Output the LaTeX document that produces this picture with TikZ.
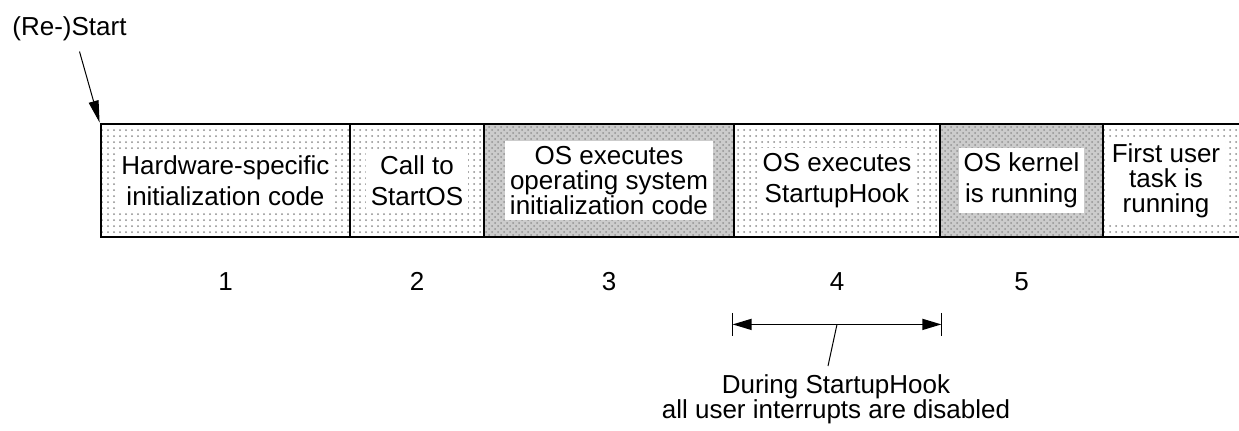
\documentclass[tikz,border=0pt]{standalone}
\usepackage{fontspec}
\setmainfont{Liberation Sans}
\usetikzlibrary{positioning,patterns,arrows.meta}

\tikzset{
  stagebox/.style={draw, line width=1.4pt, inner sep=0pt, minimum height=56.5pt,
    preaction={fill=white}, pattern=dots, pattern color=gray!90},
  osbox/.style={stagebox, preaction={fill=gray!40}, pattern=crosshatch dots, pattern color=gray!85},
  stagetxt/.style={fill=white, align=center, inner xsep=2.5pt, inner ysep=2.5pt,
    font=\fontsize{13}{15.5}\selectfont},
  stagetxt3/.style={stagetxt, font=\fontsize{13}{12.5}\selectfont},
  stagenum/.style={inner sep=2pt, font=\fontsize{13}{15}\selectfont},
  plain/.style={inner sep=2pt, align=center, font=\fontsize{13}{12.5}\selectfont}
}

\begin{document}
\begin{tikzpicture}[x=0.5pt,y=-0.5pt]
         \clip (0,0) rectangle (1239,430) ;
         %\draw[very thin,gray,step=50] (0,0) grid (1239,430) ;
         % the stages
         \node[stagebox, minimum width=124.5pt] (b1) at (225.5,180.5) {} ;
         \node[stagebox, minimum width=67pt] (b2) at (417,180.5) {} ;
         \node[osbox, minimum width=125pt] (b3) at (609,180.5) {} ;
         \node[stagebox, minimum width=103pt] (b4) at (837,180.5) {} ;
         \node[osbox, minimum width=81.5pt] (b5) at (1021.5,180.5) {} ;
         \node[stagebox, minimum width=78.5pt] (b6) at (1181.5,180.5) {} ;

         \node[stagetxt] (t1) at (b1) {Hardware-specific\\initialization code} ;
         \node[stagetxt] (t2) at (b2) {Call to\\StartOS} ;
         \node[stagetxt3] (t3) at (b3) {OS executes\\operating system\\initialization code} ;
         \node[stagetxt] (t4) at (b4) {OS executes\\StartupHook} ;
         \node[stagetxt] (t5) at (b5) {OS kernel\\is running} ;
         \node[stagetxt3] (t6) at (1166,180.5) {First user\\task is\\running} ;

         \node[stagenum, below=15pt of b1] (n1) {1} ;
         \node[stagenum, below=15pt of b2] (n2) {2} ;
         \node[stagenum, below=15pt of b3] (n3) {3} ;
         \node[stagenum, below=15pt of b4] (n4) {4} ;
         \node[stagenum, below=15pt of b5] (n5) {5} ;

         % (re-)start
         \node[plain] (start) at (69.5,29) {(Re-)Start} ;
         \draw[line width=0.5pt, -{Triangle[length=11pt,width=5pt]}]
              ([xshift=5pt,yshift=-3pt]start.south) -- (b1.north west) ;

         % duration of StartupHook
         \coordinate (d1) at ([yshift=-43pt]b4.south west) ;
         \coordinate (d2) at ([yshift=-43pt]b4.south east) ;
         \draw[line width=0.75pt, {Triangle[length=9.5pt,width=5.5pt]}-{Triangle[length=9.5pt,width=5.5pt]}]
              (d1) -- coordinate (dm) (d2) ;
         \draw[line width=0.75pt] (d1) ++(0,-11.5) -- ++(0,23) ;
         \draw[line width=0.75pt] (d2) ++(0,-11.5) -- ++(0,23) ;
         \node[plain, anchor=north] (note) at (836,370)
              {During StartupHook\\all user interrupts are disabled} ;
         \draw[line width=0.5pt] (dm) -- ([xshift=-4pt,yshift=2pt]note.north) ;
      \end{tikzpicture}
\end{document}
